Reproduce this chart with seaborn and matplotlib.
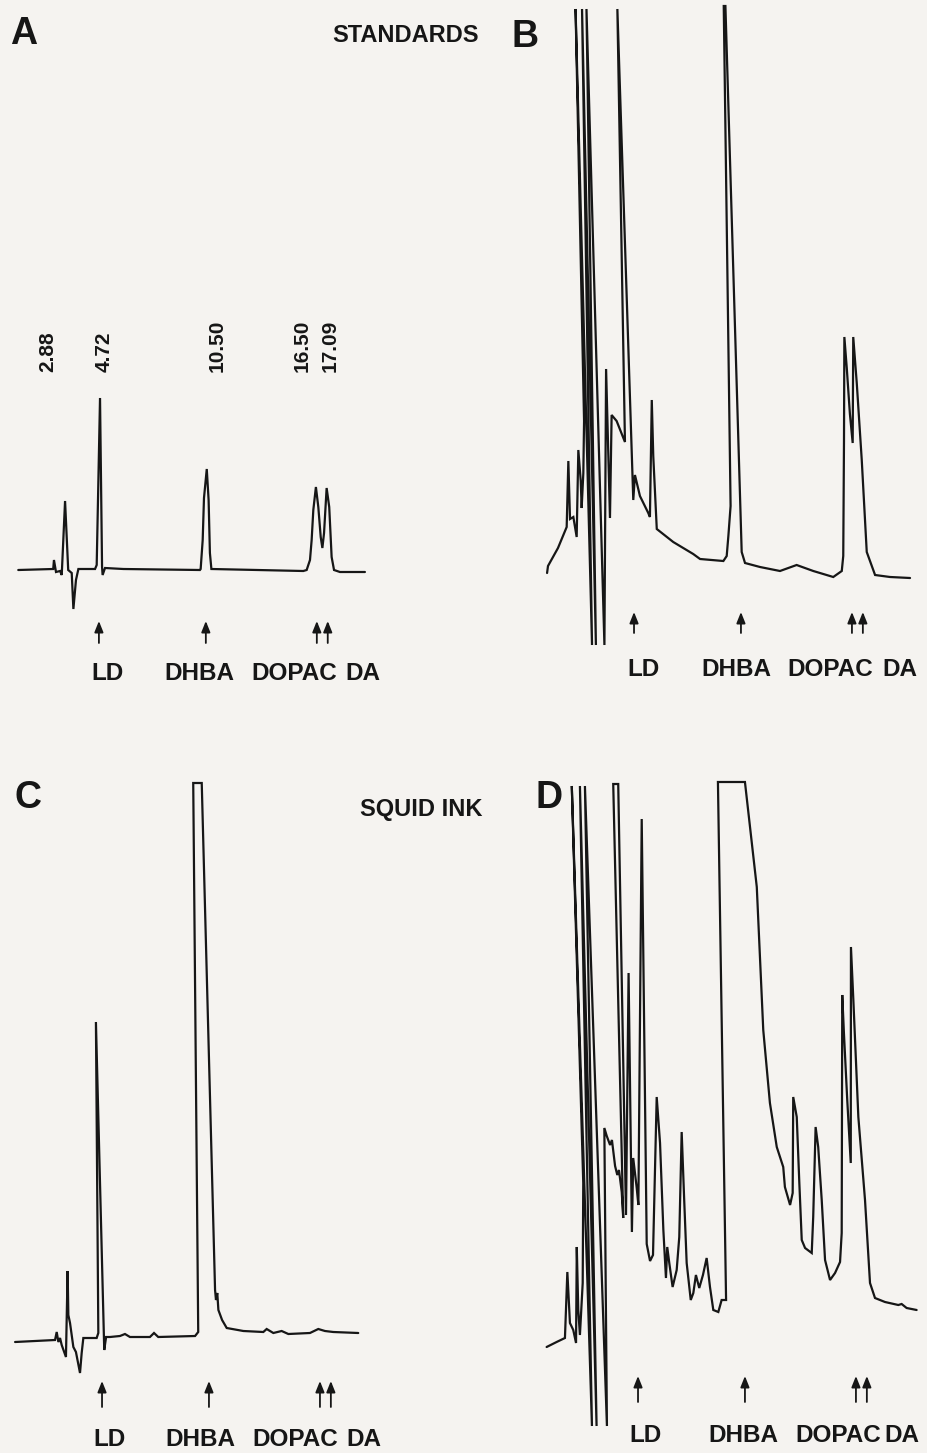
import matplotlib
matplotlib.use("Agg")
import matplotlib.pyplot as plt
import numpy as np
import pandas as pd
import seaborn as sns

# ---------------- Data: retention time (min) vs detector response (arb. units) -------------
# Panel A - standards
a_time = [0.36, 2.25, 2.29, 2.40, 2.62, 2.71, 2.89, 3.06, 3.25, 3.34, 3.48, 3.61, 4.51, 4.60,
          4.78, 4.89, 4.92, 5.05, 6.04, 10.18, 10.22, 10.33, 10.40, 10.55, 10.65, 10.72, 10.80,
          15.77, 15.95, 16.13, 16.22, 16.31, 16.45, 16.58, 16.71, 16.80, 16.89, 17.03, 17.17,
          17.30, 17.43, 17.75, 19.10]
a_resp = [0.0, 0.1, 1.0, -0.2, -0.1, -0.5, 6.9, 0.0, -0.3, -3.9, -1.0, 0.1, 0.1, 0.5,
          17.2, 0.3, -0.5, 0.2, 0.1, 0.0, 0.1, 3.0, 7.2, 10.1, 7.0, 1.7, 0.1,
          -0.1, 0.0, 1.0, 3.0, 6.0, 8.3, 6.3, 3.3, 2.2, 3.7, 8.2, 6.3,
          1.3, 0.0, -0.2, -0.2]

# Panel B - standards, high sensitivity
b_time = [0.02, 0.07, 0.61, 1.08, 1.17, 1.26, 1.44, 1.62, 1.71, 1.84, 1.89, 1.98, 2.02, 1.56,
          2.45, 1.91, 2.66, 2.15, 3.12, 3.21, 3.42, 3.51, 3.78, 4.23, 3.82, 4.68, 4.77, 5.04,
          5.49, 5.58, 5.68, 5.76, 5.95, 6.84, 7.92, 8.29, 9.55, 9.73, 9.82, 9.94, 9.57, 9.66,
          10.54, 10.72, 11.53, 12.61, 13.51, 14.41, 15.49, 15.95, 16.03, 16.07, 16.09, 16.22,
          16.39, 16.54, 16.57, 16.76, 17.03, 17.30, 17.75, 18.56, 19.64]
b_resp = [0.7, 1.4, 3.2, 5.3, 11.9, 6.1, 6.3, 4.3, 13.0, 9.9, 7.2, 10.7, 15.9, 57.1,
          -6.5, 57.1, -6.5, 57.1, -6.5, 21.1, 6.2, 16.5, 15.9, 13.8, 57.1, 8.0, 10.5, 8.4,
          6.7, 6.3, 18.0, 12.4, 5.1, 3.8, 2.6, 2.1, 1.9, 2.4, 4.4, 7.4, 57.4, 57.4,
          2.8, 1.7, 1.3, 0.9, 1.5, 0.9, 0.3, 0.9, 2.4, 13.9, 24.3, 21.2,
          16.6, 13.7, 24.3, 19.7, 12.0, 2.8, 0.5, 0.3, 0.2]

# Panel C - squid ink
c_time = [0.02, 2.18, 2.27, 2.36, 2.45, 2.54, 2.77, 2.86, 2.90, 2.99, 3.17, 3.31, 3.53, 3.62,
          3.71, 4.43, 4.52, 4.39, 4.84, 4.94, 5.15, 5.69, 5.96, 6.23, 7.31, 7.53, 7.76, 9.75,
          9.92, 9.65, 10.11, 10.83, 10.88, 10.95, 11.01, 11.21, 11.46, 12.36, 13.44, 13.62,
          13.98, 14.43, 14.79, 15.96, 16.41, 16.77, 17.22, 18.57]
c_resp = [0.0, 0.2, 1.0, 0.0, 0.4, -0.3, -1.5, 7.1, 2.7, 1.9, -0.5, -1.0, -3.1, -1.1,
          0.4, 0.4, 0.9, 32.0, -0.8, 0.5, 0.5, 0.6, 0.8, 0.5, 0.5, 0.9, 0.5, 0.6,
          1.0, 55.9, 55.9, 5.2, 4.2, 4.9, 3.2, 2.2, 1.4, 1.1, 1.0, 1.3,
          0.9, 1.1, 0.8, 0.9, 1.3, 1.1, 1.0, 0.9]

# Panel D - squid ink, high sensitivity
d_time = [-0.22, 0.32, 0.77, 0.90, 1.04, 1.22, 1.37, 1.41, 1.49, 1.58, 1.73, 1.76, 1.14, 2.23,
          1.58, 2.48, 1.85, 3.04, 2.90, 3.03, 3.21, 3.31, 3.48, 3.60, 3.69, 3.84, 3.92, 3.38,
          3.65, 4.07, 4.21, 4.39, 4.46, 4.65, 4.74, 4.92, 5.19, 5.37, 5.53, 5.73, 5.91, 6.09,
          6.23, 6.30, 6.41, 6.59, 6.81, 6.95, 7.08, 7.21, 7.35, 7.57, 7.71, 7.85, 8.03, 8.23,
          8.43, 8.61, 8.79, 9.06, 9.24, 9.48, 9.04, 10.50, 11.14, 11.49, 11.85, 12.22, 12.57,
          12.66, 12.94, 13.08, 13.11, 13.30, 13.44, 13.57, 13.75, 14.11, 14.19, 14.32, 14.46,
          14.65, 14.83, 15.10, 15.37, 15.64, 15.73, 15.76, 15.85, 16.03, 16.22, 16.23, 16.36,
          16.63, 16.99, 17.26, 17.53, 18.07, 18.79, 18.97, 19.24, 19.78]
d_resp = [0.3, 0.8, 1.2, 7.8, 2.7, 2.0, 0.7, 10.3, 4.0, 1.5, 6.7, 16.7, 56.4, -7.6,
          56.4, -7.6, 56.4, -7.6, 22.2, 21.4, 20.5, 21.0, 18.4, 17.5, 18.0, 15.8, 13.2, 56.6,
          56.6, 13.5, 37.7, 11.8, 19.2, 16.2, 14.5, 53.1, 10.6, 8.9, 9.5, 25.3, 20.7, 12.0,
          7.2, 10.3, 8.7, 6.3, 8.0, 11.3, 21.8, 15.3, 8.7, 5.0, 5.7, 7.5, 6.2, 7.5,
          9.2, 6.3, 4.0, 3.8, 5.0, 5.0, 56.8, 56.8, 46.3, 32.0, 24.7, 20.3, 18.3,
          16.3, 14.5, 15.7, 25.3, 23.3, 16.7, 11.0, 10.2, 9.7, 13.3, 22.3, 20.3,
          15.0, 9.0, 7.0, 7.7, 8.8, 11.7, 35.5, 31.7, 25.0, 18.7, 40.3, 35.0,
          23.3, 15.0, 6.7, 5.2, 4.8, 4.5, 4.6, 4.2, 4.0]

compounds = ["LD", "DHBA", "DOPAC", "DA"]
compound_rt = [4.72, 10.50, 16.50, 17.09]
rt_labels = ["2.88", "4.72", "10.50", "16.50", "17.09"]

# ---------------- Style ----------------
sns.set_theme(style="white")
plt.rcParams["font.family"] = ["Liberation Sans", "DejaVu Sans"]
INK = "#161616"
BG = "#f5f3f0"

W, H = 927, 1453
fig = plt.figure(figsize=(W / 100, H / 100), dpi=100, facecolor=BG)


def fx(px):
    return px / W


def fy(py):
    return 1 - py / H


def make_ax(x0, x1, y0, y1, xlim, ylim):
    ax = fig.add_axes([x0 / W, 1 - y1 / H, (x1 - x0) / W, (y1 - y0) / H])
    ax.set_facecolor("none")
    ax.set_xlim(*xlim)
    ax.set_ylim(*ylim)
    ax.axis("off")
    return ax


panels = {
    "A": dict(box=(0, 470, 0, 700), xlim=(-0.627, 24.78), ylim=(-13.0, 57.0),
              t=a_time, r=a_resp, arrow=(-5.1, -7.3), lab_y=-10.4,
              lab_x=[5.16, 10.13, 15.26, 19.0]),
    "B": dict(box=(470, 927, 0, 700), xlim=(-4.146, 20.557), ylim=(-12.0, 58.0),
              t=b_time, r=b_resp, arrow=(-3.2, -5.3), lab_y=-9.0,
              lab_x=[5.21, 10.23, 15.31, 19.10]),
    "C": dict(box=(0, 470, 700, 1453), xlim=(-0.795, 24.611), ylim=(-11.1, 64.2),
              t=c_time, r=c_resp, arrow=(-3.9, -6.5), lab_y=-9.8,
              lab_x=[5.15, 10.02, 15.15, 18.88]),
    "D": dict(box=(470, 927, 700, 1453), xlim=(-4.362, 20.341), ylim=(-10.3, 65.0),
              t=d_time, r=d_resp, arrow=(-2.6, -5.2), lab_y=-8.6,
              lab_x=[5.10, 10.40, 15.53, 19.0]),
}

axes = {}
for key, p in panels.items():
    ax = make_ax(*p["box"], p["xlim"], p["ylim"])
    axes[key] = ax
    df = pd.DataFrame({"time": p["t"], "response": p["r"]})
    sns.lineplot(data=df, x="time", y="response", sort=False, estimator=None,
                 ax=ax, color=INK, lw=1.6, solid_joinstyle="miter")
    ax.axis("off")
    tip, tail = p["arrow"]
    for rt in compound_rt:
        ax.annotate("", xy=(rt, tip), xytext=(rt, tail),
                    arrowprops=dict(arrowstyle="-|>,head_length=0.55,head_width=0.22",
                                    color=INK, lw=1.3, shrinkA=0, shrinkB=0),
                    annotation_clip=False)
    for name, lx in zip(compounds, p["lab_x"]):
        ax.text(lx, p["lab_y"], name, ha="center", va="center", fontsize=17.5,
                fontweight="bold", color=INK)

# retention time labels over panel A peaks
rt_label_x = [1.97, 4.99, 11.10, 15.70, 17.21]
for lab, lx in zip(rt_labels, rt_label_x):
    axes["A"].text(lx, 19.8, lab, rotation=90, ha="center", va="bottom",
                   fontsize=15, fontweight="bold", color=INK,
                   family=["Liberation Sans Narrow", "Liberation Sans", "DejaVu Sans"])

# panel letters and titles
for letter, (px, py) in {"A": (10, 34), "B": (512, 37), "C": (14, 798), "D": (536, 798)}.items():
    fig.text(fx(px), fy(py), letter, ha="left", va="center", fontsize=27,
             fontweight="bold", color=INK)
fig.text(fx(332), fy(36), "STANDARDS", ha="left", va="center", fontsize=17,
         fontweight="bold", color=INK)
fig.text(fx(360), fy(809), "SQUID INK", ha="left", va="center", fontsize=17,
         fontweight="bold", color=INK)

fig.savefig("out.png", dpi=100, facecolor=BG)
